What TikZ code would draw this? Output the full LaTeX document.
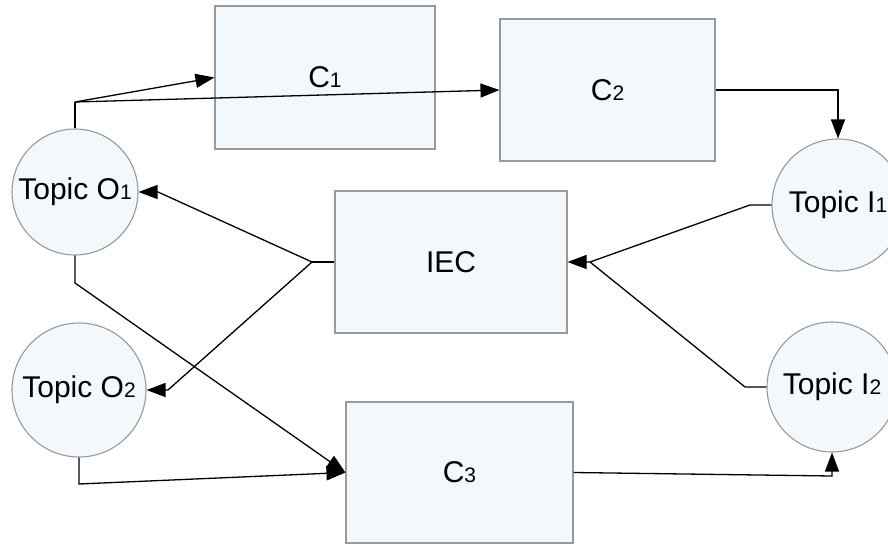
\documentclass[tikz,border=0pt]{standalone}
\usepackage{fontspec}
\setmainfont{Liberation Sans}
\usetikzlibrary{arrows.meta}
\definecolor{boxfill}{HTML}{F3F8FC}
\definecolor{boxline}{HTML}{999999}
\newcommand{\sub}[1]{{\fontsize{21}{22}\selectfont #1}}
\tikzset{
  block/.style={draw=boxline, line width=1.1pt, fill=boxfill, rectangle, inner sep=0pt,
    font=\fontsize{30}{33}\selectfont},
  topic/.style={draw=boxline, line width=1.1pt, fill=boxfill, circle, inner sep=0pt,
    font=\fontsize{30}{33}\selectfont},
  link/.style={draw=black, line width=1.3pt, line join=miter},
  tip/.style={-{Triangle[length=19pt,width=14pt]}}
}
\begin{document}
\begin{tikzpicture}[x=1pt,y=-1pt]
\useasboundingbox (0,0) rectangle (888,545);

% processing blocks
\node[block, minimum width=220pt, minimum height=143pt] (c1) at (325,77.5) {C\sub{1}};
\node[block, minimum width=215pt, minimum height=142pt] (c2) at (607.5,90) {C\sub{2}};
\node[block, minimum width=232pt, minimum height=142pt] (iec) at (451,262) {IEC};
\node[block, minimum width=227pt, minimum height=141pt] (c3) at (459.5,472.5) {C\sub{3}};

% topics
\node[topic, minimum size=126pt] (o1) at (75,192) {Topic O\sub{1}};
\node[topic, minimum size=134pt] (o2) at (79,390) {Topic O\sub{2}};
\node[topic, minimum size=132pt] (i1) at (838,205) {Topic I\sub{1}};
\node[topic, minimum size=130pt] (i2) at (832,387) {Topic I\sub{2}};

% bend points
\coordinate (o1up) at (75,102);
\coordinate (o1dn) at (75,283);
\coordinate (o2dn) at (79,484);
\coordinate (iecl) at (312,262);
\coordinate (o1in) at (158,192);
\coordinate (o2in) at (168,390);
\coordinate (iecr) at (590,262);
\coordinate (i1l) at (750,205);
\coordinate (i2l) at (745,387);
\coordinate (c2r) at (838,90);
\coordinate (c3r) at (832,476);

% O1 feeds C1 and C2
\draw[link] (o1.north) -- (o1up);
\draw[link, tip] (o1up) -- (c1.west);
\draw[link, tip] (o1up) -- (c2.west);

% C2 publishes to I1
\draw[link, tip] (c2.east) -- (c2r) -- (i1.north);

% IEC publishes to O1 and O2
\draw[link] (iec.west) -- (iecl);
\draw[link, tip] (iecl) -- (o1in) -- (o1.east);
\draw[link, tip] (iecl) -- (o2in) -- (o2.east);

% I1 and I2 feed IEC
\draw[link, tip] (i1.west) -- (i1l) -- (iecr) -- (iec.east);
\draw[link] (i2.west) -- (i2l) -- (iecr);

% O1 and O2 feed C3
\draw[link, tip] (o1.south) -- (o1dn) -- (c3.west);
\draw[link, tip] (o2.south) -- (o2dn) -- (c3.west);

% C3 publishes to I2
\draw[link, tip] (c3.east) -- (c3r) -- (i2.south);
\end{tikzpicture}
\end{document}
